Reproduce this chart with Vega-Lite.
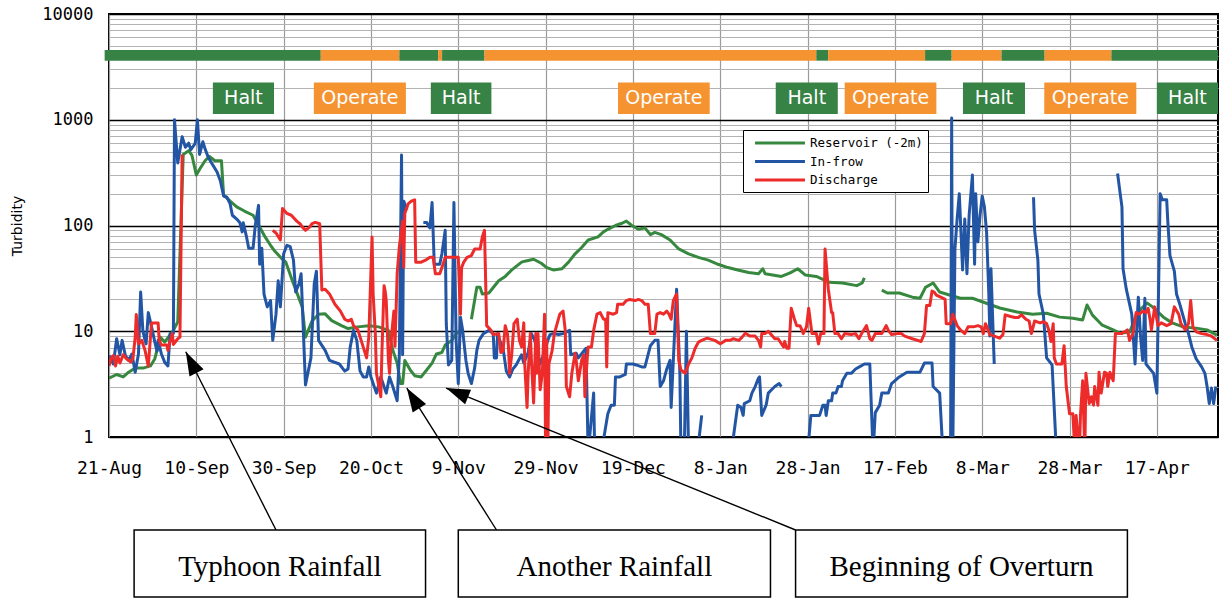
{
  "$schema": "https://vega.github.io/schema/vega-lite/v6.json",
  "width": 1109,
  "height": 423,
  "autosize": {"type": "none"},
  "padding": {"left": 109, "top": 14, "right": 1, "bottom": 161},
  "background": "white",
  "config": {
    "view": {"stroke": "black", "strokeWidth": 2},
    "axis": {"labelColor": "black", "titleColor": "black", "labelFontWeight": "normal"}
  },
  "datasets": {
    "status": [
      {"start": "2007-08-20", "end": "2007-10-08T12:00Z", "mode": "Halt"},
      {"start": "2007-10-08T12:00Z", "end": "2007-10-26T12:00Z", "mode": "Operate"},
      {"start": "2007-10-26T12:00Z", "end": "2007-11-04T10:00Z", "mode": "Halt"},
      {"start": "2007-11-04T10:00Z", "end": "2007-11-05T07:00Z", "mode": "Operate"},
      {"start": "2007-11-05T07:00Z", "end": "2007-11-15", "mode": "Halt"},
      {"start": "2007-11-15", "end": "2008-01-30", "mode": "Operate"},
      {"start": "2008-01-30", "end": "2008-02-01T17:00Z", "mode": "Halt"},
      {"start": "2008-02-01T17:00Z", "end": "2008-02-23T22:00Z", "mode": "Operate"},
      {"start": "2008-02-23T22:00Z", "end": "2008-03-01", "mode": "Halt"},
      {"start": "2008-03-01", "end": "2008-03-12T10:00Z", "mode": "Operate"},
      {"start": "2008-03-12T10:00Z", "end": "2008-03-22T07:00Z", "mode": "Halt"},
      {"start": "2008-03-22T07:00Z", "end": "2008-04-06T14:00Z", "mode": "Operate"},
      {"start": "2008-04-06T14:00Z", "end": "2008-05-01", "mode": "Halt"}
    ],
    "phases": [
      {"start": "2007-09-13T19:00Z", "end": "2007-09-27T19:00Z", "mode": "Halt"},
      {"start": "2007-10-06T22:00Z", "end": "2007-10-28T00:00Z", "mode": "Operate"},
      {"start": "2007-11-02T17:00Z", "end": "2007-11-16T14:00Z", "mode": "Halt"},
      {"start": "2007-12-15T14:00Z", "end": "2008-01-05T14:00Z", "mode": "Operate"},
      {"start": "2008-01-20T17:00Z", "end": "2008-02-03T22:00Z", "mode": "Halt"},
      {"start": "2008-02-05T12:00Z", "end": "2008-02-26T12:00Z", "mode": "Operate"},
      {"start": "2008-03-03T14:00Z", "end": "2008-03-17T19:00Z", "mode": "Halt"},
      {"start": "2008-03-22T05:00Z", "end": "2008-04-12T07:00Z", "mode": "Operate"},
      {"start": "2008-04-17T00:00Z", "end": "2008-05-01T00:00Z", "mode": "Halt"}
    ],
    "notes": [
      {"note": "Typhoon Rainfall", "tip": "2007-09-07T14:00Z", "tipValue": 6.4, "tail": "2007-09-28T06:00Z", "boxStart": "2007-08-26T18:00Z", "boxEnd": "2007-11-01T12:00Z"},
      {"note": "Another Rainfall", "tip": "2007-10-28T05:00Z", "tipValue": 2.9, "tail": "2007-11-17T18:00Z", "boxStart": "2007-11-09T00:00Z", "boxEnd": "2008-01-19T12:00Z"},
      {"note": "Beginning of Overturn", "tip": "2007-11-06T05:00Z", "tipValue": 2.9, "tail": "2008-01-25T06:00Z", "boxStart": "2008-01-25T06:00Z", "boxEnd": "2008-04-10T06:00Z"}
    ],
    "turbidity": [
      {"date": "2007-08-21", "series": "Reservoir (-2m)", "value": 3.6},
      {"date": "2007-08-22T18:00Z", "series": "Reservoir (-2m)", "value": 3.9},
      {"date": "2007-08-24T06:00Z", "series": "Reservoir (-2m)", "value": 3.7},
      {"date": "2007-08-25T12:00Z", "series": "Reservoir (-2m)", "value": 4.1},
      {"date": "2007-08-27", "series": "Reservoir (-2m)", "value": 4.5},
      {"date": "2007-08-29", "series": "Reservoir (-2m)", "value": 4.5},
      {"date": "2007-08-30T12:00Z", "series": "Reservoir (-2m)", "value": 4.7},
      {"date": "2007-08-31T12:00Z", "series": "Reservoir (-2m)", "value": 5.5},
      {"date": "2007-09-01T18:00Z", "series": "Reservoir (-2m)", "value": 8.8},
      {"date": "2007-09-02T18:00Z", "series": "Reservoir (-2m)", "value": 7.9},
      {"date": "2007-09-04T18:00Z", "series": "Reservoir (-2m)", "value": 10.2},
      {"date": "2007-09-05T18:00Z", "series": "Reservoir (-2m)", "value": 12.3},
      {"date": "2007-09-07", "series": "Reservoir (-2m)", "value": 470},
      {"date": "2007-09-08T06:00Z", "series": "Reservoir (-2m)", "value": 510},
      {"date": "2007-09-09", "series": "Reservoir (-2m)", "value": 460},
      {"date": "2007-09-10", "series": "Reservoir (-2m)", "value": 300},
      {"date": "2007-09-10T18:00Z", "series": "Reservoir (-2m)", "value": 340},
      {"date": "2007-09-12", "series": "Reservoir (-2m)", "value": 410},
      {"date": "2007-09-13", "series": "Reservoir (-2m)", "value": 450},
      {"date": "2007-09-14T06:00Z", "series": "Reservoir (-2m)", "value": 410},
      {"date": "2007-09-15T18:00Z", "series": "Reservoir (-2m)", "value": 410},
      {"date": "2007-09-16T06:00Z", "series": "Reservoir (-2m)", "value": 195},
      {"date": "2007-09-17T18:00Z", "series": "Reservoir (-2m)", "value": 170},
      {"date": "2007-09-19T06:00Z", "series": "Reservoir (-2m)", "value": 150},
      {"date": "2007-09-21", "series": "Reservoir (-2m)", "value": 137},
      {"date": "2007-09-23", "series": "Reservoir (-2m)", "value": 125},
      {"date": "2007-09-24T12:00Z", "series": "Reservoir (-2m)", "value": 97},
      {"date": "2007-09-25T18:00Z", "series": "Reservoir (-2m)", "value": 78},
      {"date": "2007-09-27", "series": "Reservoir (-2m)", "value": 65},
      {"date": "2007-09-28", "series": "Reservoir (-2m)", "value": 57},
      {"date": "2007-09-29T12:00Z", "series": "Reservoir (-2m)", "value": 49},
      {"date": "2007-09-30T12:00Z", "series": "Reservoir (-2m)", "value": 45},
      {"date": "2007-10-02", "series": "Reservoir (-2m)", "value": 30},
      {"date": "2007-10-04T06:00Z", "series": "Reservoir (-2m)", "value": 17},
      {"date": "2007-10-05", "series": "Reservoir (-2m)", "value": 8.8},
      {"date": "2007-10-06T12:00Z", "series": "Reservoir (-2m)", "value": 12.5},
      {"date": "2007-10-08", "series": "Reservoir (-2m)", "value": 14.5},
      {"date": "2007-10-09T12:00Z", "series": "Reservoir (-2m)", "value": 14.6},
      {"date": "2007-10-11", "series": "Reservoir (-2m)", "value": 12.6},
      {"date": "2007-10-13T06:00Z", "series": "Reservoir (-2m)", "value": 11.3},
      {"date": "2007-10-14T18:00Z", "series": "Reservoir (-2m)", "value": 10.6},
      {"date": "2007-10-17", "series": "Reservoir (-2m)", "value": 11},
      {"date": "2007-10-19T12:00Z", "series": "Reservoir (-2m)", "value": 11.3},
      {"date": "2007-10-21T18:00Z", "series": "Reservoir (-2m)", "value": 11},
      {"date": "2007-10-24", "series": "Reservoir (-2m)", "value": 10.2},
      {"date": "2007-10-25", "series": "Reservoir (-2m)", "value": 6.6},
      {"date": "2007-10-26", "series": "Reservoir (-2m)", "value": 5},
      {"date": "2007-10-26T18:00Z", "series": "Reservoir (-2m)", "value": 3.2},
      {"date": "2007-10-27T06:00Z", "series": "Reservoir (-2m)", "value": 3.2},
      {"date": "2007-10-27T18:00Z", "series": "Reservoir (-2m)", "value": 5.3},
      {"date": "2007-10-29", "series": "Reservoir (-2m)", "value": 4.3},
      {"date": "2007-10-30", "series": "Reservoir (-2m)", "value": 3.8},
      {"date": "2007-10-31T12:00Z", "series": "Reservoir (-2m)", "value": 3.7},
      {"date": "2007-11-01T18:00Z", "series": "Reservoir (-2m)", "value": 4.3},
      {"date": "2007-11-03", "series": "Reservoir (-2m)", "value": 5},
      {"date": "2007-11-04", "series": "Reservoir (-2m)", "value": 6.1},
      {"date": "2007-11-05T06:00Z", "series": "Reservoir (-2m)", "value": 6.3},
      {"date": "2007-11-06", "series": "Reservoir (-2m)", "value": 7.4},
      {"date": "2007-11-07T12:00Z", "series": "Reservoir (-2m)", "value": 8.2},
      {"date": "2007-11-08T12:00Z", "series": "Reservoir (-2m)", "value": 9.5},
      {"date": "2007-11-09T12:00Z", "series": "Reservoir (-2m)", "value": 10.2},
      {"date": "2007-11-10T12:00Z", "series": "Reservoir (-2m)", "value": null},
      {"date": "2007-11-12", "series": "Reservoir (-2m)", "value": 13},
      {"date": "2007-11-13T06:00Z", "series": "Reservoir (-2m)", "value": 26},
      {"date": "2007-11-14", "series": "Reservoir (-2m)", "value": 26},
      {"date": "2007-11-14T12:00Z", "series": "Reservoir (-2m)", "value": 22.5},
      {"date": "2007-11-16", "series": "Reservoir (-2m)", "value": 23},
      {"date": "2007-11-18T06:00Z", "series": "Reservoir (-2m)", "value": 30},
      {"date": "2007-11-19T18:00Z", "series": "Reservoir (-2m)", "value": 33},
      {"date": "2007-11-21T06:00Z", "series": "Reservoir (-2m)", "value": 38},
      {"date": "2007-11-23T12:00Z", "series": "Reservoir (-2m)", "value": 45},
      {"date": "2007-11-24T06:00Z", "series": "Reservoir (-2m)", "value": 46},
      {"date": "2007-11-26T06:00Z", "series": "Reservoir (-2m)", "value": 48},
      {"date": "2007-11-28", "series": "Reservoir (-2m)", "value": 44},
      {"date": "2007-11-29T06:00Z", "series": "Reservoir (-2m)", "value": 40},
      {"date": "2007-11-30T18:00Z", "series": "Reservoir (-2m)", "value": 38},
      {"date": "2007-12-02T18:00Z", "series": "Reservoir (-2m)", "value": 39},
      {"date": "2007-12-04T06:00Z", "series": "Reservoir (-2m)", "value": 45},
      {"date": "2007-12-05T18:00Z", "series": "Reservoir (-2m)", "value": 54},
      {"date": "2007-12-07T06:00Z", "series": "Reservoir (-2m)", "value": 62},
      {"date": "2007-12-08T18:00Z", "series": "Reservoir (-2m)", "value": 73},
      {"date": "2007-12-11", "series": "Reservoir (-2m)", "value": 78},
      {"date": "2007-12-12T06:00Z", "series": "Reservoir (-2m)", "value": 87},
      {"date": "2007-12-13T06:00Z", "series": "Reservoir (-2m)", "value": 92},
      {"date": "2007-12-15", "series": "Reservoir (-2m)", "value": 100},
      {"date": "2007-12-16T12:00Z", "series": "Reservoir (-2m)", "value": 105},
      {"date": "2007-12-17T12:00Z", "series": "Reservoir (-2m)", "value": 110},
      {"date": "2007-12-18T18:00Z", "series": "Reservoir (-2m)", "value": 100},
      {"date": "2007-12-20T06:00Z", "series": "Reservoir (-2m)", "value": 92},
      {"date": "2007-12-21T18:00Z", "series": "Reservoir (-2m)", "value": 95},
      {"date": "2007-12-23", "series": "Reservoir (-2m)", "value": 82},
      {"date": "2007-12-24", "series": "Reservoir (-2m)", "value": 86},
      {"date": "2007-12-25T12:00Z", "series": "Reservoir (-2m)", "value": 82},
      {"date": "2007-12-27T12:00Z", "series": "Reservoir (-2m)", "value": 73},
      {"date": "2007-12-29T12:00Z", "series": "Reservoir (-2m)", "value": 60},
      {"date": "2007-12-31T18:00Z", "series": "Reservoir (-2m)", "value": 54},
      {"date": "2008-01-03", "series": "Reservoir (-2m)", "value": 50},
      {"date": "2008-01-05T06:00Z", "series": "Reservoir (-2m)", "value": 47},
      {"date": "2008-01-07T12:00Z", "series": "Reservoir (-2m)", "value": 43},
      {"date": "2008-01-09T18:00Z", "series": "Reservoir (-2m)", "value": 40},
      {"date": "2008-01-12", "series": "Reservoir (-2m)", "value": 38},
      {"date": "2008-01-14T12:00Z", "series": "Reservoir (-2m)", "value": 36},
      {"date": "2008-01-16T18:00Z", "series": "Reservoir (-2m)", "value": 35},
      {"date": "2008-01-17T18:00Z", "series": "Reservoir (-2m)", "value": 39},
      {"date": "2008-01-18T06:00Z", "series": "Reservoir (-2m)", "value": 35},
      {"date": "2008-01-20", "series": "Reservoir (-2m)", "value": 34},
      {"date": "2008-01-22", "series": "Reservoir (-2m)", "value": 33},
      {"date": "2008-01-24", "series": "Reservoir (-2m)", "value": 35.6},
      {"date": "2008-01-25T18:00Z", "series": "Reservoir (-2m)", "value": 39},
      {"date": "2008-01-27T12:00Z", "series": "Reservoir (-2m)", "value": 34},
      {"date": "2008-01-30", "series": "Reservoir (-2m)", "value": 33},
      {"date": "2008-01-30T18:00Z", "series": "Reservoir (-2m)", "value": 32},
      {"date": "2008-02-02", "series": "Reservoir (-2m)", "value": 29},
      {"date": "2008-02-05", "series": "Reservoir (-2m)", "value": 28.6},
      {"date": "2008-02-08T06:00Z", "series": "Reservoir (-2m)", "value": 27},
      {"date": "2008-02-09T12:00Z", "series": "Reservoir (-2m)", "value": 28.6},
      {"date": "2008-02-10", "series": "Reservoir (-2m)", "value": 32},
      {"date": "2008-02-12", "series": "Reservoir (-2m)", "value": null},
      {"date": "2008-02-14", "series": "Reservoir (-2m)", "value": 24.5},
      {"date": "2008-02-15T06:00Z", "series": "Reservoir (-2m)", "value": 23},
      {"date": "2008-02-18", "series": "Reservoir (-2m)", "value": 23},
      {"date": "2008-02-21", "series": "Reservoir (-2m)", "value": 21},
      {"date": "2008-02-22T18:00Z", "series": "Reservoir (-2m)", "value": 20.5},
      {"date": "2008-02-24", "series": "Reservoir (-2m)", "value": 26},
      {"date": "2008-02-25T18:00Z", "series": "Reservoir (-2m)", "value": 28.6},
      {"date": "2008-02-27T06:00Z", "series": "Reservoir (-2m)", "value": 23.5},
      {"date": "2008-02-29T12:00Z", "series": "Reservoir (-2m)", "value": 22},
      {"date": "2008-03-03", "series": "Reservoir (-2m)", "value": 20.5},
      {"date": "2008-03-05T18:00Z", "series": "Reservoir (-2m)", "value": 20.5},
      {"date": "2008-03-08", "series": "Reservoir (-2m)", "value": 19},
      {"date": "2008-03-12", "series": "Reservoir (-2m)", "value": 16.6},
      {"date": "2008-03-16", "series": "Reservoir (-2m)", "value": 15.2},
      {"date": "2008-03-19T12:00Z", "series": "Reservoir (-2m)", "value": 14.5},
      {"date": "2008-03-22T18:00Z", "series": "Reservoir (-2m)", "value": 14.8},
      {"date": "2008-03-25T18:00Z", "series": "Reservoir (-2m)", "value": 13.6},
      {"date": "2008-03-28T18:00Z", "series": "Reservoir (-2m)", "value": 13.3},
      {"date": "2008-03-31", "series": "Reservoir (-2m)", "value": 12.8},
      {"date": "2008-04-01", "series": "Reservoir (-2m)", "value": 17.7},
      {"date": "2008-04-02T06:00Z", "series": "Reservoir (-2m)", "value": 14.2},
      {"date": "2008-04-04T12:00Z", "series": "Reservoir (-2m)", "value": 11.4},
      {"date": "2008-04-07", "series": "Reservoir (-2m)", "value": 10.3},
      {"date": "2008-04-08T12:00Z", "series": "Reservoir (-2m)", "value": 9.6},
      {"date": "2008-04-10T18:00Z", "series": "Reservoir (-2m)", "value": 9.8},
      {"date": "2008-04-12T12:00Z", "series": "Reservoir (-2m)", "value": 15},
      {"date": "2008-04-14T18:00Z", "series": "Reservoir (-2m)", "value": 18.5},
      {"date": "2008-04-16", "series": "Reservoir (-2m)", "value": 17},
      {"date": "2008-04-18T12:00Z", "series": "Reservoir (-2m)", "value": 13.6},
      {"date": "2008-04-20T12:00Z", "series": "Reservoir (-2m)", "value": 12},
      {"date": "2008-04-23", "series": "Reservoir (-2m)", "value": 11},
      {"date": "2008-04-26", "series": "Reservoir (-2m)", "value": 10.7},
      {"date": "2008-04-28T12:00Z", "series": "Reservoir (-2m)", "value": 10.3},
      {"date": "2008-04-30T18:00Z", "series": "Reservoir (-2m)", "value": 9.2},

      {"date": "2007-08-21", "series": "In-frow", "value": 5.9},
      {"date": "2007-08-22", "series": "In-frow", "value": 4.9},
      {"date": "2007-08-22T18:00Z", "series": "In-frow", "value": 8.5},
      {"date": "2007-08-23T12:00Z", "series": "In-frow", "value": 6},
      {"date": "2007-08-24", "series": "In-frow", "value": 8.2},
      {"date": "2007-08-24T18:00Z", "series": "In-frow", "value": 5.9},
      {"date": "2007-08-25T12:00Z", "series": "In-frow", "value": 5.3},
      {"date": "2007-08-26T06:00Z", "series": "In-frow", "value": 6.1},
      {"date": "2007-08-27", "series": "In-frow", "value": 4.1},
      {"date": "2007-08-27T18:00Z", "series": "In-frow", "value": 6.1},
      {"date": "2007-08-28T06:00Z", "series": "In-frow", "value": 23.5},
      {"date": "2007-08-28T18:00Z", "series": "In-frow", "value": 10.2},
      {"date": "2007-08-29T06:00Z", "series": "In-frow", "value": 8.2},
      {"date": "2007-08-29T12:00Z", "series": "In-frow", "value": 7.6},
      {"date": "2007-08-30", "series": "In-frow", "value": 15},
      {"date": "2007-08-30T18:00Z", "series": "In-frow", "value": 11},
      {"date": "2007-08-31T12:00Z", "series": "In-frow", "value": 7.9},
      {"date": "2007-09-01", "series": "In-frow", "value": 6.5},
      {"date": "2007-09-01T06:00Z", "series": "In-frow", "value": 8.2},
      {"date": "2007-09-02", "series": "In-frow", "value": 6.1},
      {"date": "2007-09-02T18:00Z", "series": "In-frow", "value": 5.1},
      {"date": "2007-09-03T12:00Z", "series": "In-frow", "value": 4.7},
      {"date": "2007-09-04", "series": "In-frow", "value": 9.5},
      {"date": "2007-09-04T18:00Z", "series": "In-frow", "value": 9.5},
      {"date": "2007-09-05", "series": "In-frow", "value": 1000},
      {"date": "2007-09-05T18:00Z", "series": "In-frow", "value": 390},
      {"date": "2007-09-06T18:00Z", "series": "In-frow", "value": 690},
      {"date": "2007-09-07T12:00Z", "series": "In-frow", "value": 550},
      {"date": "2007-09-08T06:00Z", "series": "In-frow", "value": 600},
      {"date": "2007-09-08T18:00Z", "series": "In-frow", "value": 520},
      {"date": "2007-09-09T18:00Z", "series": "In-frow", "value": 600},
      {"date": "2007-09-10T06:00Z", "series": "In-frow", "value": 1000},
      {"date": "2007-09-10T18:00Z", "series": "In-frow", "value": 470},
      {"date": "2007-09-11T12:00Z", "series": "In-frow", "value": 620},
      {"date": "2007-09-12", "series": "In-frow", "value": 530},
      {"date": "2007-09-12T18:00Z", "series": "In-frow", "value": 440},
      {"date": "2007-09-13T12:00Z", "series": "In-frow", "value": 390},
      {"date": "2007-09-14T18:00Z", "series": "In-frow", "value": 320},
      {"date": "2007-09-15T12:00Z", "series": "In-frow", "value": 265},
      {"date": "2007-09-16T06:00Z", "series": "In-frow", "value": 190},
      {"date": "2007-09-17", "series": "In-frow", "value": 185},
      {"date": "2007-09-17T18:00Z", "series": "In-frow", "value": 160},
      {"date": "2007-09-18T06:00Z", "series": "In-frow", "value": 125},
      {"date": "2007-09-19T06:00Z", "series": "In-frow", "value": 115},
      {"date": "2007-09-20", "series": "In-frow", "value": 106},
      {"date": "2007-09-20T12:00Z", "series": "In-frow", "value": 87},
      {"date": "2007-09-20T18:00Z", "series": "In-frow", "value": 106},
      {"date": "2007-09-21T12:00Z", "series": "In-frow", "value": 78},
      {"date": "2007-09-22", "series": "In-frow", "value": 61},
      {"date": "2007-09-23", "series": "In-frow", "value": 61},
      {"date": "2007-09-23T12:00Z", "series": "In-frow", "value": 100},
      {"date": "2007-09-24T06:00Z", "series": "In-frow", "value": 155},
      {"date": "2007-09-24T12:00Z", "series": "In-frow", "value": 43},
      {"date": "2007-09-25", "series": "In-frow", "value": 61},
      {"date": "2007-09-25T12:00Z", "series": "In-frow", "value": 22.5},
      {"date": "2007-09-26T06:00Z", "series": "In-frow", "value": 17},
      {"date": "2007-09-27", "series": "In-frow", "value": 19.5},
      {"date": "2007-09-27T12:00Z", "series": "In-frow", "value": 8.2},
      {"date": "2007-09-28T06:00Z", "series": "In-frow", "value": 14.5},
      {"date": "2007-09-28T18:00Z", "series": "In-frow", "value": 30},
      {"date": "2007-09-29T06:00Z", "series": "In-frow", "value": 17},
      {"date": "2007-09-30", "series": "In-frow", "value": 54},
      {"date": "2007-09-30T18:00Z", "series": "In-frow", "value": 65},
      {"date": "2007-10-01T12:00Z", "series": "In-frow", "value": 63},
      {"date": "2007-10-02T06:00Z", "series": "In-frow", "value": 47},
      {"date": "2007-10-02T18:00Z", "series": "In-frow", "value": 23.5},
      {"date": "2007-10-03T12:00Z", "series": "In-frow", "value": 28},
      {"date": "2007-10-04", "series": "In-frow", "value": 35},
      {"date": "2007-10-05", "series": "In-frow", "value": 3.1},
      {"date": "2007-10-06T06:00Z", "series": "In-frow", "value": 5.6},
      {"date": "2007-10-07", "series": "In-frow", "value": 28},
      {"date": "2007-10-07T12:00Z", "series": "In-frow", "value": 37},
      {"date": "2007-10-08", "series": "In-frow", "value": 8.2},
      {"date": "2007-10-09T12:00Z", "series": "In-frow", "value": 6.6},
      {"date": "2007-10-10T12:00Z", "series": "In-frow", "value": 5.3},
      {"date": "2007-10-12T18:00Z", "series": "In-frow", "value": 4.9},
      {"date": "2007-10-14", "series": "In-frow", "value": 4.2},
      {"date": "2007-10-14T18:00Z", "series": "In-frow", "value": 4.4},
      {"date": "2007-10-15T06:00Z", "series": "In-frow", "value": 7.1},
      {"date": "2007-10-16", "series": "In-frow", "value": 10.2},
      {"date": "2007-10-16T18:00Z", "series": "In-frow", "value": 8.2},
      {"date": "2007-10-17T12:00Z", "series": "In-frow", "value": 4.2},
      {"date": "2007-10-18T06:00Z", "series": "In-frow", "value": 3.7},
      {"date": "2007-10-19", "series": "In-frow", "value": 3.7},
      {"date": "2007-10-19T12:00Z", "series": "In-frow", "value": 4.6},
      {"date": "2007-10-20", "series": "In-frow", "value": 3.7},
      {"date": "2007-10-21T06:00Z", "series": "In-frow", "value": 2.6},
      {"date": "2007-10-22T06:00Z", "series": "In-frow", "value": 3.7},
      {"date": "2007-10-23T12:00Z", "series": "In-frow", "value": 2.6},
      {"date": "2007-10-24T06:00Z", "series": "In-frow", "value": 3.7},
      {"date": "2007-10-25", "series": "In-frow", "value": 3},
      {"date": "2007-10-26", "series": "In-frow", "value": 2.2},
      {"date": "2007-10-26T12:00Z", "series": "In-frow", "value": 6},
      {"date": "2007-10-27", "series": "In-frow", "value": 465},
      {"date": "2007-10-27T06:00Z", "series": "In-frow", "value": 6},
      {"date": "2007-10-27T12:00Z", "series": "In-frow", "value": 170},
      {"date": "2007-10-28T06:00Z", "series": "In-frow", "value": 140},
      {"date": "2007-10-29T12:00Z", "series": "In-frow", "value": null},
      {"date": "2007-11-01", "series": "In-frow", "value": 107},
      {"date": "2007-11-01T18:00Z", "series": "In-frow", "value": 107},
      {"date": "2007-11-02T12:00Z", "series": "In-frow", "value": 95},
      {"date": "2007-11-03", "series": "In-frow", "value": 165},
      {"date": "2007-11-03T12:00Z", "series": "In-frow", "value": 43},
      {"date": "2007-11-04T18:00Z", "series": "In-frow", "value": 43},
      {"date": "2007-11-05T06:00Z", "series": "In-frow", "value": 54},
      {"date": "2007-11-06", "series": "In-frow", "value": 90},
      {"date": "2007-11-06T06:00Z", "series": "In-frow", "value": 11.8},
      {"date": "2007-11-06T18:00Z", "series": "In-frow", "value": 4.8},
      {"date": "2007-11-07T12:00Z", "series": "In-frow", "value": 5.3},
      {"date": "2007-11-08", "series": "In-frow", "value": 165},
      {"date": "2007-11-08T12:00Z", "series": "In-frow", "value": 8.2},
      {"date": "2007-11-09", "series": "In-frow", "value": 3.2},
      {"date": "2007-11-09T12:00Z", "series": "In-frow", "value": 13.6},
      {"date": "2007-11-10", "series": "In-frow", "value": 10.2},
      {"date": "2007-11-10T18:00Z", "series": "In-frow", "value": 5.3},
      {"date": "2007-11-11T06:00Z", "series": "In-frow", "value": 4},
      {"date": "2007-11-12", "series": "In-frow", "value": 3.2},
      {"date": "2007-11-12T18:00Z", "series": "In-frow", "value": 4.5},
      {"date": "2007-11-13T06:00Z", "series": "In-frow", "value": 6.6},
      {"date": "2007-11-13T18:00Z", "series": "In-frow", "value": 8.2},
      {"date": "2007-11-14T18:00Z", "series": "In-frow", "value": 9.5},
      {"date": "2007-11-16", "series": "In-frow", "value": 10.2},
      {"date": "2007-11-17", "series": "In-frow", "value": 9.5},
      {"date": "2007-11-17T06:00Z", "series": "In-frow", "value": 5.6},
      {"date": "2007-11-17T18:00Z", "series": "In-frow", "value": 5.6},
      {"date": "2007-11-18", "series": "In-frow", "value": 9.5},
      {"date": "2007-11-18T12:00Z", "series": "In-frow", "value": 8.2},
      {"date": "2007-11-19T06:00Z", "series": "In-frow", "value": 6.9},
      {"date": "2007-11-20", "series": "In-frow", "value": 4.2},
      {"date": "2007-11-20T18:00Z", "series": "In-frow", "value": 3.7},
      {"date": "2007-11-21T12:00Z", "series": "In-frow", "value": 4.4},
      {"date": "2007-11-22T06:00Z", "series": "In-frow", "value": 4.8},
      {"date": "2007-11-23T12:00Z", "series": "In-frow", "value": 6},
      {"date": "2007-11-24", "series": "In-frow", "value": 5},
      {"date": "2007-11-25", "series": "In-frow", "value": 6.3},
      {"date": "2007-11-25T18:00Z", "series": "In-frow", "value": 9.5},
      {"date": "2007-11-26T12:00Z", "series": "In-frow", "value": 8.2},
      {"date": "2007-11-27T18:00Z", "series": "In-frow", "value": 4.9},
      {"date": "2007-11-28T12:00Z", "series": "In-frow", "value": 6},
      {"date": "2007-11-29T12:00Z", "series": "In-frow", "value": 8.2},
      {"date": "2007-11-30", "series": "In-frow", "value": 9.3},
      {"date": "2007-11-30T18:00Z", "series": "In-frow", "value": 9.5},
      {"date": "2007-12-02", "series": "In-frow", "value": 9.3},
      {"date": "2007-12-03", "series": "In-frow", "value": 9.5},
      {"date": "2007-12-04T12:00Z", "series": "In-frow", "value": 10.2},
      {"date": "2007-12-04T18:00Z", "series": "In-frow", "value": 6},
      {"date": "2007-12-06", "series": "In-frow", "value": 6.2},
      {"date": "2007-12-06T12:00Z", "series": "In-frow", "value": 5.6},
      {"date": "2007-12-08T06:00Z", "series": "In-frow", "value": 6.9},
      {"date": "2007-12-08T18:00Z", "series": "In-frow", "value": 0.7},
      {"date": "2007-12-10", "series": "In-frow", "value": 2.6},
      {"date": "2007-12-10T06:00Z", "series": "In-frow", "value": 0.7},
      {"date": "2007-12-11T18:00Z", "series": "In-frow", "value": 0.7},
      {"date": "2007-12-13T06:00Z", "series": "In-frow", "value": 1.66},
      {"date": "2007-12-14", "series": "In-frow", "value": 2},
      {"date": "2007-12-14T18:00Z", "series": "In-frow", "value": 2},
      {"date": "2007-12-15", "series": "In-frow", "value": 3.7},
      {"date": "2007-12-16", "series": "In-frow", "value": 3.7},
      {"date": "2007-12-17T06:00Z", "series": "In-frow", "value": 3.9},
      {"date": "2007-12-17T12:00Z", "series": "In-frow", "value": 4.9},
      {"date": "2007-12-19", "series": "In-frow", "value": 4.9},
      {"date": "2007-12-19T18:00Z", "series": "In-frow", "value": 4.8},
      {"date": "2007-12-21", "series": "In-frow", "value": 4.6},
      {"date": "2007-12-21T18:00Z", "series": "In-frow", "value": 4.6},
      {"date": "2007-12-23", "series": "In-frow", "value": 7.3},
      {"date": "2007-12-24", "series": "In-frow", "value": 8.2},
      {"date": "2007-12-24T18:00Z", "series": "In-frow", "value": 8.2},
      {"date": "2007-12-25T06:00Z", "series": "In-frow", "value": 3},
      {"date": "2007-12-26", "series": "In-frow", "value": 3.4},
      {"date": "2007-12-26T18:00Z", "series": "In-frow", "value": 4.4},
      {"date": "2007-12-27T12:00Z", "series": "In-frow", "value": 5.3},
      {"date": "2007-12-27T18:00Z", "series": "In-frow", "value": 1.9},
      {"date": "2007-12-28T06:00Z", "series": "In-frow", "value": 5.3},
      {"date": "2007-12-29", "series": "In-frow", "value": 25},
      {"date": "2007-12-29T18:00Z", "series": "In-frow", "value": 4},
      {"date": "2007-12-30", "series": "In-frow", "value": 0.7},
      {"date": "2007-12-30T18:00Z", "series": "In-frow", "value": 0.7},
      {"date": "2007-12-31T06:00Z", "series": "In-frow", "value": 10},
      {"date": "2007-12-31T18:00Z", "series": "In-frow", "value": 0.7},
      {"date": "2008-01-01T12:00Z", "series": "In-frow", "value": null},
      {"date": "2008-01-02T18:00Z", "series": "In-frow", "value": 0.7},
      {"date": "2008-01-03T18:00Z", "series": "In-frow", "value": 1.6},
      {"date": "2008-01-04T12:00Z", "series": "In-frow", "value": null},
      {"date": "2008-01-10T12:00Z", "series": "In-frow", "value": 0.7},
      {"date": "2008-01-12", "series": "In-frow", "value": 2},
      {"date": "2008-01-12T18:00Z", "series": "In-frow", "value": 1.9},
      {"date": "2008-01-13T06:00Z", "series": "In-frow", "value": 1.6},
      {"date": "2008-01-13T12:00Z", "series": "In-frow", "value": 2.07},
      {"date": "2008-01-14T18:00Z", "series": "In-frow", "value": 2.2},
      {"date": "2008-01-15T06:00Z", "series": "In-frow", "value": 2.6},
      {"date": "2008-01-16", "series": "In-frow", "value": 3},
      {"date": "2008-01-16T18:00Z", "series": "In-frow", "value": 3.6},
      {"date": "2008-01-17", "series": "In-frow", "value": 3.7},
      {"date": "2008-01-17T12:00Z", "series": "In-frow", "value": 1.6},
      {"date": "2008-01-18T12:00Z", "series": "In-frow", "value": 2},
      {"date": "2008-01-19", "series": "In-frow", "value": 2.6},
      {"date": "2008-01-19T18:00Z", "series": "In-frow", "value": 2.8},
      {"date": "2008-01-20T12:00Z", "series": "In-frow", "value": 3},
      {"date": "2008-01-21T12:00Z", "series": "In-frow", "value": 3.2},
      {"date": "2008-01-22", "series": "In-frow", "value": 3},
      {"date": "2008-01-23", "series": "In-frow", "value": null},
      {"date": "2008-01-28", "series": "In-frow", "value": 0.7},
      {"date": "2008-01-28T18:00Z", "series": "In-frow", "value": 1.6},
      {"date": "2008-01-30T18:00Z", "series": "In-frow", "value": 1.6},
      {"date": "2008-01-31T12:00Z", "series": "In-frow", "value": 2},
      {"date": "2008-02-01", "series": "In-frow", "value": 2},
      {"date": "2008-02-01T06:00Z", "series": "In-frow", "value": 1.6},
      {"date": "2008-02-01T18:00Z", "series": "In-frow", "value": 2.2},
      {"date": "2008-02-02T12:00Z", "series": "In-frow", "value": 2.2},
      {"date": "2008-02-02T18:00Z", "series": "In-frow", "value": 2.6},
      {"date": "2008-02-03T12:00Z", "series": "In-frow", "value": 2.6},
      {"date": "2008-02-04", "series": "In-frow", "value": 3},
      {"date": "2008-02-04T18:00Z", "series": "In-frow", "value": 3},
      {"date": "2008-02-05", "series": "In-frow", "value": 3.4},
      {"date": "2008-02-06", "series": "In-frow", "value": 4},
      {"date": "2008-02-07", "series": "In-frow", "value": 4},
      {"date": "2008-02-08", "series": "In-frow", "value": 4.4},
      {"date": "2008-02-09T06:00Z", "series": "In-frow", "value": 4.7},
      {"date": "2008-02-10", "series": "In-frow", "value": 4.9},
      {"date": "2008-02-11T06:00Z", "series": "In-frow", "value": 4.9},
      {"date": "2008-02-12", "series": "In-frow", "value": 0.7},
      {"date": "2008-02-12T12:00Z", "series": "In-frow", "value": 1.7},
      {"date": "2008-02-13T12:00Z", "series": "In-frow", "value": 2},
      {"date": "2008-02-14", "series": "In-frow", "value": 2.6},
      {"date": "2008-02-15T12:00Z", "series": "In-frow", "value": 2.6},
      {"date": "2008-02-16T06:00Z", "series": "In-frow", "value": 3.2},
      {"date": "2008-02-18", "series": "In-frow", "value": 3.7},
      {"date": "2008-02-19T18:00Z", "series": "In-frow", "value": 4.1},
      {"date": "2008-02-22T18:00Z", "series": "In-frow", "value": 4.1},
      {"date": "2008-02-23T18:00Z", "series": "In-frow", "value": 5},
      {"date": "2008-02-25T12:00Z", "series": "In-frow", "value": 5},
      {"date": "2008-02-25T18:00Z", "series": "In-frow", "value": 3},
      {"date": "2008-02-27T06:00Z", "series": "In-frow", "value": 2.6},
      {"date": "2008-02-28", "series": "In-frow", "value": 0.7},
      {"date": "2008-02-29", "series": "In-frow", "value": null},
      {"date": "2008-02-29T18:00Z", "series": "In-frow", "value": 0.7},
      {"date": "2008-03-01", "series": "In-frow", "value": 1040},
      {"date": "2008-03-01T06:00Z", "series": "In-frow", "value": 0.7},
      {"date": "2008-03-01T18:00Z", "series": "In-frow", "value": 60},
      {"date": "2008-03-02T06:00Z", "series": "In-frow", "value": 115},
      {"date": "2008-03-02T18:00Z", "series": "In-frow", "value": 200},
      {"date": "2008-03-03T12:00Z", "series": "In-frow", "value": 38},
      {"date": "2008-03-04", "series": "In-frow", "value": 115},
      {"date": "2008-03-04T12:00Z", "series": "In-frow", "value": 35},
      {"date": "2008-03-05", "series": "In-frow", "value": 125},
      {"date": "2008-03-05T18:00Z", "series": "In-frow", "value": 300},
      {"date": "2008-03-06T06:00Z", "series": "In-frow", "value": 43},
      {"date": "2008-03-06T12:00Z", "series": "In-frow", "value": 200},
      {"date": "2008-03-07", "series": "In-frow", "value": 70},
      {"date": "2008-03-07T12:00Z", "series": "In-frow", "value": 125},
      {"date": "2008-03-08", "series": "In-frow", "value": 190},
      {"date": "2008-03-08T12:00Z", "series": "In-frow", "value": 150},
      {"date": "2008-03-09", "series": "In-frow", "value": 86},
      {"date": "2008-03-09T12:00Z", "series": "In-frow", "value": 23},
      {"date": "2008-03-09T18:00Z", "series": "In-frow", "value": 9},
      {"date": "2008-03-10", "series": "In-frow", "value": 39},
      {"date": "2008-03-10T18:00Z", "series": "In-frow", "value": 4.9},
      {"date": "2008-03-11T12:00Z", "series": "In-frow", "value": null},
      {"date": "2008-03-19T18:00Z", "series": "In-frow", "value": 185},
      {"date": "2008-03-20", "series": "In-frow", "value": 90},
      {"date": "2008-03-20T18:00Z", "series": "In-frow", "value": 47},
      {"date": "2008-03-21", "series": "In-frow", "value": 22.5},
      {"date": "2008-03-22", "series": "In-frow", "value": 14.5},
      {"date": "2008-03-22T18:00Z", "series": "In-frow", "value": 5.6},
      {"date": "2008-03-24", "series": "In-frow", "value": 4.8},
      {"date": "2008-03-25", "series": "In-frow", "value": 0.7},
      {"date": "2008-03-26", "series": "In-frow", "value": null},
      {"date": "2008-04-08", "series": "In-frow", "value": 310},
      {"date": "2008-04-08T12:00Z", "series": "In-frow", "value": 215},
      {"date": "2008-04-09", "series": "In-frow", "value": 150},
      {"date": "2008-04-09T06:00Z", "series": "In-frow", "value": 39},
      {"date": "2008-04-10", "series": "In-frow", "value": 25},
      {"date": "2008-04-11T06:00Z", "series": "In-frow", "value": 14.5},
      {"date": "2008-04-12", "series": "In-frow", "value": 4.9},
      {"date": "2008-04-12T18:00Z", "series": "In-frow", "value": 21},
      {"date": "2008-04-13T06:00Z", "series": "In-frow", "value": 9},
      {"date": "2008-04-13T18:00Z", "series": "In-frow", "value": 5.3},
      {"date": "2008-04-14T06:00Z", "series": "In-frow", "value": 20.5},
      {"date": "2008-04-14T12:00Z", "series": "In-frow", "value": 4.9},
      {"date": "2008-04-16T06:00Z", "series": "In-frow", "value": 4},
      {"date": "2008-04-17", "series": "In-frow", "value": 2.6},
      {"date": "2008-04-17T18:00Z", "series": "In-frow", "value": 200},
      {"date": "2008-04-18T06:00Z", "series": "In-frow", "value": 175},
      {"date": "2008-04-19T06:00Z", "series": "In-frow", "value": 175},
      {"date": "2008-04-19T12:00Z", "series": "In-frow", "value": 110},
      {"date": "2008-04-20", "series": "In-frow", "value": 52},
      {"date": "2008-04-21", "series": "In-frow", "value": 37},
      {"date": "2008-04-21T12:00Z", "series": "In-frow", "value": 22.5},
      {"date": "2008-04-22T06:00Z", "series": "In-frow", "value": 18},
      {"date": "2008-04-23T12:00Z", "series": "In-frow", "value": 11.8},
      {"date": "2008-04-24T06:00Z", "series": "In-frow", "value": 9.5},
      {"date": "2008-04-25", "series": "In-frow", "value": 7.1},
      {"date": "2008-04-26", "series": "In-frow", "value": 5.5},
      {"date": "2008-04-27T06:00Z", "series": "In-frow", "value": 4.6},
      {"date": "2008-04-28", "series": "In-frow", "value": 4},
      {"date": "2008-04-28T12:00Z", "series": "In-frow", "value": 3},
      {"date": "2008-04-29", "series": "In-frow", "value": 2.07},
      {"date": "2008-04-29T12:00Z", "series": "In-frow", "value": 2.9},
      {"date": "2008-04-30", "series": "In-frow", "value": 2.07},
      {"date": "2008-04-30T12:00Z", "series": "In-frow", "value": 3},

      {"date": "2007-08-21", "series": "Discharge", "value": 4.7},
      {"date": "2007-08-21T12:00Z", "series": "Discharge", "value": 5.6},
      {"date": "2007-08-22", "series": "Discharge", "value": 5.9},
      {"date": "2007-08-22T12:00Z", "series": "Discharge", "value": 4.7},
      {"date": "2007-08-23", "series": "Discharge", "value": 5.8},
      {"date": "2007-08-23T12:00Z", "series": "Discharge", "value": 5},
      {"date": "2007-08-24T06:00Z", "series": "Discharge", "value": 6},
      {"date": "2007-08-25", "series": "Discharge", "value": 5.5},
      {"date": "2007-08-26", "series": "Discharge", "value": 5.1},
      {"date": "2007-08-26T12:00Z", "series": "Discharge", "value": 5.6},
      {"date": "2007-08-27", "series": "Discharge", "value": 8.8},
      {"date": "2007-08-27T06:00Z", "series": "Discharge", "value": 14.4},
      {"date": "2007-08-27T18:00Z", "series": "Discharge", "value": 7.6},
      {"date": "2007-08-28T12:00Z", "series": "Discharge", "value": 8.2},
      {"date": "2007-08-29T06:00Z", "series": "Discharge", "value": 6.6},
      {"date": "2007-08-30", "series": "Discharge", "value": 4.7},
      {"date": "2007-08-30T18:00Z", "series": "Discharge", "value": 12},
      {"date": "2007-09-01T06:00Z", "series": "Discharge", "value": 12},
      {"date": "2007-09-01T12:00Z", "series": "Discharge", "value": 8.2},
      {"date": "2007-09-02", "series": "Discharge", "value": 7.4},
      {"date": "2007-09-03T06:00Z", "series": "Discharge", "value": 7.4},
      {"date": "2007-09-03T12:00Z", "series": "Discharge", "value": 6.6},
      {"date": "2007-09-03T18:00Z", "series": "Discharge", "value": 7.4},
      {"date": "2007-09-04T12:00Z", "series": "Discharge", "value": 9.5},
      {"date": "2007-09-04T18:00Z", "series": "Discharge", "value": 7.5},
      {"date": "2007-09-05T06:00Z", "series": "Discharge", "value": 8},
      {"date": "2007-09-05T18:00Z", "series": "Discharge", "value": 8.5},
      {"date": "2007-09-06T06:00Z", "series": "Discharge", "value": 8.8},
      {"date": "2007-09-06T18:00Z", "series": "Discharge", "value": 470},
      {"date": "2007-09-07T12:00Z", "series": "Discharge", "value": null},
      {"date": "2007-09-27T12:00Z", "series": "Discharge", "value": 90},
      {"date": "2007-09-28T06:00Z", "series": "Discharge", "value": 85},
      {"date": "2007-09-29T06:00Z", "series": "Discharge", "value": 73},
      {"date": "2007-09-29T18:00Z", "series": "Discharge", "value": 145},
      {"date": "2007-09-30T18:00Z", "series": "Discharge", "value": 130},
      {"date": "2007-10-01T18:00Z", "series": "Discharge", "value": 125},
      {"date": "2007-10-03", "series": "Discharge", "value": 110},
      {"date": "2007-10-03T18:00Z", "series": "Discharge", "value": 104},
      {"date": "2007-10-04T06:00Z", "series": "Discharge", "value": 97},
      {"date": "2007-10-05", "series": "Discharge", "value": 90},
      {"date": "2007-10-06", "series": "Discharge", "value": 97},
      {"date": "2007-10-06T12:00Z", "series": "Discharge", "value": 104},
      {"date": "2007-10-07T06:00Z", "series": "Discharge", "value": 107},
      {"date": "2007-10-08T06:00Z", "series": "Discharge", "value": 104},
      {"date": "2007-10-08T18:00Z", "series": "Discharge", "value": 24.5},
      {"date": "2007-10-09T12:00Z", "series": "Discharge", "value": 25},
      {"date": "2007-10-10T12:00Z", "series": "Discharge", "value": 22.5},
      {"date": "2007-10-11T18:00Z", "series": "Discharge", "value": 18},
      {"date": "2007-10-13", "series": "Discharge", "value": 15.5},
      {"date": "2007-10-14", "series": "Discharge", "value": 13},
      {"date": "2007-10-14T18:00Z", "series": "Discharge", "value": 12.5},
      {"date": "2007-10-15T12:00Z", "series": "Discharge", "value": 13},
      {"date": "2007-10-16", "series": "Discharge", "value": 11.3},
      {"date": "2007-10-17", "series": "Discharge", "value": 10.3},
      {"date": "2007-10-17T18:00Z", "series": "Discharge", "value": 8.2},
      {"date": "2007-10-19", "series": "Discharge", "value": 5.6},
      {"date": "2007-10-19T12:00Z", "series": "Discharge", "value": 8.8},
      {"date": "2007-10-20T06:00Z", "series": "Discharge", "value": 78},
      {"date": "2007-10-20T12:00Z", "series": "Discharge", "value": 22.5},
      {"date": "2007-10-21", "series": "Discharge", "value": 9.5},
      {"date": "2007-10-21T06:00Z", "series": "Discharge", "value": 4},
      {"date": "2007-10-22T06:00Z", "series": "Discharge", "value": 2.4},
      {"date": "2007-10-22T12:00Z", "series": "Discharge", "value": 6.2},
      {"date": "2007-10-23", "series": "Discharge", "value": 27},
      {"date": "2007-10-23T06:00Z", "series": "Discharge", "value": 24},
      {"date": "2007-10-23T12:00Z", "series": "Discharge", "value": 19.5},
      {"date": "2007-10-24", "series": "Discharge", "value": 5.3},
      {"date": "2007-10-24T06:00Z", "series": "Discharge", "value": 4},
      {"date": "2007-10-24T18:00Z", "series": "Discharge", "value": 9.5},
      {"date": "2007-10-25T06:00Z", "series": "Discharge", "value": 15.5},
      {"date": "2007-10-25T12:00Z", "series": "Discharge", "value": 7.2},
      {"date": "2007-10-26", "series": "Discharge", "value": 35},
      {"date": "2007-10-26T12:00Z", "series": "Discharge", "value": 63},
      {"date": "2007-10-27T06:00Z", "series": "Discharge", "value": 110},
      {"date": "2007-10-27T12:00Z", "series": "Discharge", "value": 40},
      {"date": "2007-10-27T18:00Z", "series": "Discharge", "value": 130},
      {"date": "2007-10-28T12:00Z", "series": "Discharge", "value": 160},
      {"date": "2007-10-29T06:00Z", "series": "Discharge", "value": 170},
      {"date": "2007-10-30", "series": "Discharge", "value": 175},
      {"date": "2007-10-30T06:00Z", "series": "Discharge", "value": 45},
      {"date": "2007-10-31T12:00Z", "series": "Discharge", "value": 45},
      {"date": "2007-11-01T12:00Z", "series": "Discharge", "value": 47},
      {"date": "2007-11-02T12:00Z", "series": "Discharge", "value": 50},
      {"date": "2007-11-03T06:00Z", "series": "Discharge", "value": 50},
      {"date": "2007-11-03T18:00Z", "series": "Discharge", "value": 35},
      {"date": "2007-11-04T18:00Z", "series": "Discharge", "value": 35},
      {"date": "2007-11-05T06:00Z", "series": "Discharge", "value": 40},
      {"date": "2007-11-06", "series": "Discharge", "value": 50},
      {"date": "2007-11-07T12:00Z", "series": "Discharge", "value": 50},
      {"date": "2007-11-09", "series": "Discharge", "value": 50},
      {"date": "2007-11-09T12:00Z", "series": "Discharge", "value": 14.5},
      {"date": "2007-11-09T18:00Z", "series": "Discharge", "value": 40},
      {"date": "2007-11-10T06:00Z", "series": "Discharge", "value": 45},
      {"date": "2007-11-11", "series": "Discharge", "value": 50},
      {"date": "2007-11-12", "series": "Discharge", "value": 52},
      {"date": "2007-11-12T18:00Z", "series": "Discharge", "value": 60},
      {"date": "2007-11-14", "series": "Discharge", "value": 60},
      {"date": "2007-11-14T12:00Z", "series": "Discharge", "value": 78},
      {"date": "2007-11-15", "series": "Discharge", "value": 90},
      {"date": "2007-11-15T12:00Z", "series": "Discharge", "value": 11.3},
      {"date": "2007-11-16T12:00Z", "series": "Discharge", "value": 10.2},
      {"date": "2007-11-17", "series": "Discharge", "value": 9.3},
      {"date": "2007-11-18T06:00Z", "series": "Discharge", "value": 9.5},
      {"date": "2007-11-18T18:00Z", "series": "Discharge", "value": 6.3},
      {"date": "2007-11-19T06:00Z", "series": "Discharge", "value": 6.5},
      {"date": "2007-11-19T18:00Z", "series": "Discharge", "value": 11.3},
      {"date": "2007-11-20T06:00Z", "series": "Discharge", "value": 9.5},
      {"date": "2007-11-20T12:00Z", "series": "Discharge", "value": 7.1},
      {"date": "2007-11-20T18:00Z", "series": "Discharge", "value": 4},
      {"date": "2007-11-21T06:00Z", "series": "Discharge", "value": 6.1},
      {"date": "2007-11-21T18:00Z", "series": "Discharge", "value": 11.8},
      {"date": "2007-11-22T12:00Z", "series": "Discharge", "value": 13},
      {"date": "2007-11-23", "series": "Discharge", "value": 8.2},
      {"date": "2007-11-23T12:00Z", "series": "Discharge", "value": 7.1},
      {"date": "2007-11-24", "series": "Discharge", "value": 12},
      {"date": "2007-11-24T06:00Z", "series": "Discharge", "value": 4.6},
      {"date": "2007-11-24T18:00Z", "series": "Discharge", "value": 1.9},
      {"date": "2007-11-25", "series": "Discharge", "value": 4},
      {"date": "2007-11-25T12:00Z", "series": "Discharge", "value": 9.5},
      {"date": "2007-11-25T18:00Z", "series": "Discharge", "value": 5.3},
      {"date": "2007-11-26T06:00Z", "series": "Discharge", "value": 2.1},
      {"date": "2007-11-26T18:00Z", "series": "Discharge", "value": 9.5},
      {"date": "2007-11-27", "series": "Discharge", "value": 4},
      {"date": "2007-11-27T06:00Z", "series": "Discharge", "value": 9.5},
      {"date": "2007-11-27T18:00Z", "series": "Discharge", "value": 2.8},
      {"date": "2007-11-28T06:00Z", "series": "Discharge", "value": 4},
      {"date": "2007-11-28T18:00Z", "series": "Discharge", "value": 14.5},
      {"date": "2007-11-29", "series": "Discharge", "value": 0.7},
      {"date": "2007-11-29T06:00Z", "series": "Discharge", "value": 8.2},
      {"date": "2007-11-29T12:00Z", "series": "Discharge", "value": 0.7},
      {"date": "2007-11-29T18:00Z", "series": "Discharge", "value": 4.9},
      {"date": "2007-11-30T12:00Z", "series": "Discharge", "value": 6.6},
      {"date": "2007-12-01", "series": "Discharge", "value": 9.5},
      {"date": "2007-12-02T06:00Z", "series": "Discharge", "value": 14.5},
      {"date": "2007-12-03", "series": "Discharge", "value": 15.5},
      {"date": "2007-12-03T12:00Z", "series": "Discharge", "value": 10.2},
      {"date": "2007-12-03T18:00Z", "series": "Discharge", "value": 3},
      {"date": "2007-12-04T12:00Z", "series": "Discharge", "value": 2.4},
      {"date": "2007-12-05", "series": "Discharge", "value": 4},
      {"date": "2007-12-05T18:00Z", "series": "Discharge", "value": 6.2},
      {"date": "2007-12-06", "series": "Discharge", "value": 5.3},
      {"date": "2007-12-06T12:00Z", "series": "Discharge", "value": 3.4},
      {"date": "2007-12-07T06:00Z", "series": "Discharge", "value": 5.3},
      {"date": "2007-12-07T18:00Z", "series": "Discharge", "value": 6},
      {"date": "2007-12-08", "series": "Discharge", "value": 2.4},
      {"date": "2007-12-08T12:00Z", "series": "Discharge", "value": 5.3},
      {"date": "2007-12-08T18:00Z", "series": "Discharge", "value": 7.1},
      {"date": "2007-12-09T12:00Z", "series": "Discharge", "value": 7.1},
      {"date": "2007-12-10", "series": "Discharge", "value": 10.2},
      {"date": "2007-12-10T18:00Z", "series": "Discharge", "value": 14.5},
      {"date": "2007-12-11T12:00Z", "series": "Discharge", "value": 15},
      {"date": "2007-12-12T06:00Z", "series": "Discharge", "value": 13},
      {"date": "2007-12-12T18:00Z", "series": "Discharge", "value": 13},
      {"date": "2007-12-13", "series": "Discharge", "value": 4.6},
      {"date": "2007-12-13T06:00Z", "series": "Discharge", "value": 15},
      {"date": "2007-12-14T12:00Z", "series": "Discharge", "value": 14.5},
      {"date": "2007-12-15T06:00Z", "series": "Discharge", "value": 15},
      {"date": "2007-12-15T12:00Z", "series": "Discharge", "value": 18},
      {"date": "2007-12-16T18:00Z", "series": "Discharge", "value": 18},
      {"date": "2007-12-17T12:00Z", "series": "Discharge", "value": 19.5},
      {"date": "2007-12-18T06:00Z", "series": "Discharge", "value": 20},
      {"date": "2007-12-19T12:00Z", "series": "Discharge", "value": 19.5},
      {"date": "2007-12-20T06:00Z", "series": "Discharge", "value": 20},
      {"date": "2007-12-21", "series": "Discharge", "value": 19.5},
      {"date": "2007-12-21T18:00Z", "series": "Discharge", "value": 18},
      {"date": "2007-12-22T12:00Z", "series": "Discharge", "value": 18},
      {"date": "2007-12-23", "series": "Discharge", "value": 9.5},
      {"date": "2007-12-24", "series": "Discharge", "value": 9.5},
      {"date": "2007-12-24T12:00Z", "series": "Discharge", "value": 14.5},
      {"date": "2007-12-25T06:00Z", "series": "Discharge", "value": 15},
      {"date": "2007-12-26", "series": "Discharge", "value": 14.5},
      {"date": "2007-12-26T18:00Z", "series": "Discharge", "value": 15.5},
      {"date": "2007-12-27T06:00Z", "series": "Discharge", "value": 14.5},
      {"date": "2007-12-27T18:00Z", "series": "Discharge", "value": 13},
      {"date": "2007-12-28T06:00Z", "series": "Discharge", "value": 19.5},
      {"date": "2007-12-29", "series": "Discharge", "value": 22.5},
      {"date": "2007-12-29T12:00Z", "series": "Discharge", "value": 5.3},
      {"date": "2007-12-30", "series": "Discharge", "value": 4.3},
      {"date": "2007-12-31", "series": "Discharge", "value": 4},
      {"date": "2007-12-31T18:00Z", "series": "Discharge", "value": 4.9},
      {"date": "2008-01-01T12:00Z", "series": "Discharge", "value": 5.6},
      {"date": "2008-01-02T06:00Z", "series": "Discharge", "value": 6.9},
      {"date": "2008-01-03", "series": "Discharge", "value": 7.9},
      {"date": "2008-01-03T18:00Z", "series": "Discharge", "value": 8.2},
      {"date": "2008-01-05", "series": "Discharge", "value": 8.6},
      {"date": "2008-01-06T18:00Z", "series": "Discharge", "value": 8.2},
      {"date": "2008-01-08", "series": "Discharge", "value": 7.6},
      {"date": "2008-01-09T06:00Z", "series": "Discharge", "value": 8.2},
      {"date": "2008-01-10T06:00Z", "series": "Discharge", "value": 8.2},
      {"date": "2008-01-11", "series": "Discharge", "value": 8.5},
      {"date": "2008-01-12T06:00Z", "series": "Discharge", "value": 8.2},
      {"date": "2008-01-13", "series": "Discharge", "value": 8.8},
      {"date": "2008-01-13T18:00Z", "series": "Discharge", "value": 9.6},
      {"date": "2008-01-14T18:00Z", "series": "Discharge", "value": 9},
      {"date": "2008-01-16", "series": "Discharge", "value": 9},
      {"date": "2008-01-16T18:00Z", "series": "Discharge", "value": 8.2},
      {"date": "2008-01-17T06:00Z", "series": "Discharge", "value": 7.1},
      {"date": "2008-01-17T12:00Z", "series": "Discharge", "value": 9.5},
      {"date": "2008-01-18T06:00Z", "series": "Discharge", "value": 9.5},
      {"date": "2008-01-19", "series": "Discharge", "value": 10},
      {"date": "2008-01-20T12:00Z", "series": "Discharge", "value": 8.5},
      {"date": "2008-01-21T06:00Z", "series": "Discharge", "value": 8.5},
      {"date": "2008-01-22T12:00Z", "series": "Discharge", "value": 7.1},
      {"date": "2008-01-22T18:00Z", "series": "Discharge", "value": 8},
      {"date": "2008-01-23T06:00Z", "series": "Discharge", "value": 6.9},
      {"date": "2008-01-23T18:00Z", "series": "Discharge", "value": 6.9},
      {"date": "2008-01-24T06:00Z", "series": "Discharge", "value": 16.5},
      {"date": "2008-01-25", "series": "Discharge", "value": 13},
      {"date": "2008-01-25T12:00Z", "series": "Discharge", "value": 11.3},
      {"date": "2008-01-26T06:00Z", "series": "Discharge", "value": 11.3},
      {"date": "2008-01-26T18:00Z", "series": "Discharge", "value": 10.2},
      {"date": "2008-01-27", "series": "Discharge", "value": 9.5},
      {"date": "2008-01-27T18:00Z", "series": "Discharge", "value": 11},
      {"date": "2008-01-28T06:00Z", "series": "Discharge", "value": 16.5},
      {"date": "2008-01-29", "series": "Discharge", "value": 9.5},
      {"date": "2008-01-30", "series": "Discharge", "value": 9.5},
      {"date": "2008-01-30T12:00Z", "series": "Discharge", "value": 7.6},
      {"date": "2008-01-31", "series": "Discharge", "value": 9.5},
      {"date": "2008-01-31T18:00Z", "series": "Discharge", "value": 9.5},
      {"date": "2008-02-01", "series": "Discharge", "value": 60},
      {"date": "2008-02-01T18:00Z", "series": "Discharge", "value": 25},
      {"date": "2008-02-02T12:00Z", "series": "Discharge", "value": 15},
      {"date": "2008-02-02T18:00Z", "series": "Discharge", "value": 15},
      {"date": "2008-02-03T06:00Z", "series": "Discharge", "value": 9.5},
      {"date": "2008-02-04", "series": "Discharge", "value": 9.5},
      {"date": "2008-02-04T18:00Z", "series": "Discharge", "value": 8.5},
      {"date": "2008-02-05T12:00Z", "series": "Discharge", "value": 9.5},
      {"date": "2008-02-07", "series": "Discharge", "value": 9.3},
      {"date": "2008-02-08", "series": "Discharge", "value": 9.5},
      {"date": "2008-02-08T18:00Z", "series": "Discharge", "value": 8.5},
      {"date": "2008-02-09T06:00Z", "series": "Discharge", "value": 9.3},
      {"date": "2008-02-10T12:00Z", "series": "Discharge", "value": 11.3},
      {"date": "2008-02-11T06:00Z", "series": "Discharge", "value": 8.5},
      {"date": "2008-02-11T18:00Z", "series": "Discharge", "value": 8.2},
      {"date": "2008-02-12T12:00Z", "series": "Discharge", "value": 9.5},
      {"date": "2008-02-14", "series": "Discharge", "value": 9.5},
      {"date": "2008-02-15", "series": "Discharge", "value": 11.3},
      {"date": "2008-02-15T12:00Z", "series": "Discharge", "value": 10.2},
      {"date": "2008-02-16T06:00Z", "series": "Discharge", "value": 9.3},
      {"date": "2008-02-17T12:00Z", "series": "Discharge", "value": 9.5},
      {"date": "2008-02-18T12:00Z", "series": "Discharge", "value": 9.5},
      {"date": "2008-02-19T06:00Z", "series": "Discharge", "value": 9},
      {"date": "2008-02-21", "series": "Discharge", "value": 8.5},
      {"date": "2008-02-22T06:00Z", "series": "Discharge", "value": 8.2},
      {"date": "2008-02-23", "series": "Discharge", "value": 8},
      {"date": "2008-02-23T18:00Z", "series": "Discharge", "value": 9.5},
      {"date": "2008-02-24T06:00Z", "series": "Discharge", "value": 17.5},
      {"date": "2008-02-25", "series": "Discharge", "value": 17.5},
      {"date": "2008-02-25T12:00Z", "series": "Discharge", "value": 24},
      {"date": "2008-02-26", "series": "Discharge", "value": 23.5},
      {"date": "2008-02-26T12:00Z", "series": "Discharge", "value": 22},
      {"date": "2008-02-27T12:00Z", "series": "Discharge", "value": 21},
      {"date": "2008-02-28T12:00Z", "series": "Discharge", "value": 20},
      {"date": "2008-02-28T18:00Z", "series": "Discharge", "value": 11.8},
      {"date": "2008-02-29T18:00Z", "series": "Discharge", "value": 11.8},
      {"date": "2008-03-01T06:00Z", "series": "Discharge", "value": 14.5},
      {"date": "2008-03-02T06:00Z", "series": "Discharge", "value": 11.3},
      {"date": "2008-03-03", "series": "Discharge", "value": 10.3},
      {"date": "2008-03-04", "series": "Discharge", "value": 9.5},
      {"date": "2008-03-04T18:00Z", "series": "Discharge", "value": 11},
      {"date": "2008-03-06", "series": "Discharge", "value": 11},
      {"date": "2008-03-07", "series": "Discharge", "value": 11.3},
      {"date": "2008-03-07T18:00Z", "series": "Discharge", "value": 11},
      {"date": "2008-03-08T06:00Z", "series": "Discharge", "value": 9.5},
      {"date": "2008-03-08T18:00Z", "series": "Discharge", "value": 11.8},
      {"date": "2008-03-09T18:00Z", "series": "Discharge", "value": 9.3},
      {"date": "2008-03-10T18:00Z", "series": "Discharge", "value": 9},
      {"date": "2008-03-12", "series": "Discharge", "value": 8.6},
      {"date": "2008-03-12T18:00Z", "series": "Discharge", "value": 9.3},
      {"date": "2008-03-13T06:00Z", "series": "Discharge", "value": 14.3},
      {"date": "2008-03-14T12:00Z", "series": "Discharge", "value": 13.8},
      {"date": "2008-03-15T12:00Z", "series": "Discharge", "value": 13.5},
      {"date": "2008-03-16T06:00Z", "series": "Discharge", "value": 13.5},
      {"date": "2008-03-17", "series": "Discharge", "value": 14.3},
      {"date": "2008-03-18", "series": "Discharge", "value": 13},
      {"date": "2008-03-18T18:00Z", "series": "Discharge", "value": 12.5},
      {"date": "2008-03-19T06:00Z", "series": "Discharge", "value": 9.5},
      {"date": "2008-03-20", "series": "Discharge", "value": 12.5},
      {"date": "2008-03-21T06:00Z", "series": "Discharge", "value": 12},
      {"date": "2008-03-22", "series": "Discharge", "value": 12.3},
      {"date": "2008-03-22T18:00Z", "series": "Discharge", "value": 11.8},
      {"date": "2008-03-23T06:00Z", "series": "Discharge", "value": 10.3},
      {"date": "2008-03-23T18:00Z", "series": "Discharge", "value": 8},
      {"date": "2008-03-24T06:00Z", "series": "Discharge", "value": 11.8},
      {"date": "2008-03-24T12:00Z", "series": "Discharge", "value": 5.6},
      {"date": "2008-03-25", "series": "Discharge", "value": 4.9},
      {"date": "2008-03-26T06:00Z", "series": "Discharge", "value": 4.9},
      {"date": "2008-03-26T18:00Z", "series": "Discharge", "value": 7.3},
      {"date": "2008-03-27T06:00Z", "series": "Discharge", "value": 3},
      {"date": "2008-03-28", "series": "Discharge", "value": 1.66},
      {"date": "2008-03-28T18:00Z", "series": "Discharge", "value": 1.66},
      {"date": "2008-03-29T06:00Z", "series": "Discharge", "value": 0.7},
      {"date": "2008-03-29T12:00Z", "series": "Discharge", "value": 1.6},
      {"date": "2008-03-30T06:00Z", "series": "Discharge", "value": 0.7},
      {"date": "2008-03-30T12:00Z", "series": "Discharge", "value": 1.6},
      {"date": "2008-03-31", "series": "Discharge", "value": 3.4},
      {"date": "2008-03-31T12:00Z", "series": "Discharge", "value": 0.7},
      {"date": "2008-03-31T18:00Z", "series": "Discharge", "value": 4},
      {"date": "2008-04-01T12:00Z", "series": "Discharge", "value": 2.07},
      {"date": "2008-04-02", "series": "Discharge", "value": 2.4},
      {"date": "2008-04-02T12:00Z", "series": "Discharge", "value": 2},
      {"date": "2008-04-02T18:00Z", "series": "Discharge", "value": 3},
      {"date": "2008-04-03T12:00Z", "series": "Discharge", "value": 2},
      {"date": "2008-04-03T18:00Z", "series": "Discharge", "value": 4.1},
      {"date": "2008-04-04T06:00Z", "series": "Discharge", "value": 2.6},
      {"date": "2008-04-05", "series": "Discharge", "value": 4.1},
      {"date": "2008-04-05T12:00Z", "series": "Discharge", "value": 4},
      {"date": "2008-04-05T18:00Z", "series": "Discharge", "value": 3},
      {"date": "2008-04-06T06:00Z", "series": "Discharge", "value": 4.1},
      {"date": "2008-04-07", "series": "Discharge", "value": 3.4},
      {"date": "2008-04-07T12:00Z", "series": "Discharge", "value": 9.5},
      {"date": "2008-04-08T06:00Z", "series": "Discharge", "value": 9.5},
      {"date": "2008-04-09", "series": "Discharge", "value": 9.5},
      {"date": "2008-04-10T06:00Z", "series": "Discharge", "value": 10.3},
      {"date": "2008-04-10T18:00Z", "series": "Discharge", "value": 8.2},
      {"date": "2008-04-11T12:00Z", "series": "Discharge", "value": 9.5},
      {"date": "2008-04-12T06:00Z", "series": "Discharge", "value": 15},
      {"date": "2008-04-13", "series": "Discharge", "value": 14.5},
      {"date": "2008-04-13T18:00Z", "series": "Discharge", "value": 15.5},
      {"date": "2008-04-14T12:00Z", "series": "Discharge", "value": 15},
      {"date": "2008-04-15", "series": "Discharge", "value": 16.5},
      {"date": "2008-04-15T12:00Z", "series": "Discharge", "value": 12.5},
      {"date": "2008-04-15T18:00Z", "series": "Discharge", "value": 10.3},
      {"date": "2008-04-16T12:00Z", "series": "Discharge", "value": 17},
      {"date": "2008-04-17T06:00Z", "series": "Discharge", "value": 11.3},
      {"date": "2008-04-18", "series": "Discharge", "value": 12},
      {"date": "2008-04-19T06:00Z", "series": "Discharge", "value": 11.3},
      {"date": "2008-04-20T06:00Z", "series": "Discharge", "value": 11.8},
      {"date": "2008-04-21", "series": "Discharge", "value": 17},
      {"date": "2008-04-22", "series": "Discharge", "value": 14.5},
      {"date": "2008-04-22T12:00Z", "series": "Discharge", "value": 11.8},
      {"date": "2008-04-23T12:00Z", "series": "Discharge", "value": 10.3},
      {"date": "2008-04-24T06:00Z", "series": "Discharge", "value": 11.8},
      {"date": "2008-04-24T18:00Z", "series": "Discharge", "value": 19.5},
      {"date": "2008-04-25T06:00Z", "series": "Discharge", "value": 11},
      {"date": "2008-04-26", "series": "Discharge", "value": 9.9},
      {"date": "2008-04-27T06:00Z", "series": "Discharge", "value": 9.5},
      {"date": "2008-04-28T12:00Z", "series": "Discharge", "value": 9.3},
      {"date": "2008-04-29T12:00Z", "series": "Discharge", "value": 9},
      {"date": "2008-04-30T18:00Z", "series": "Discharge", "value": 8.2}
    ]
  },
  "layer": [
    {
      "data": {"name": "status"},
      "mark": {"type": "rect"},
      "encoding": {
        "x": {
          "field": "start", "type": "temporal",
          "scale": {"type": "utc", "domain": [{"year": 2007, "month": 8, "date": 21, "utc": true}, {"year": 2008, "month": 5, "date": 1, "utc": true}]},
          "axis": {
            "title": null,
            "values": [
              {"year": 2007, "month": 8, "date": 21, "utc": true},
              {"year": 2007, "month": 9, "date": 10, "utc": true},
              {"year": 2007, "month": 9, "date": 30, "utc": true},
              {"year": 2007, "month": 10, "date": 20, "utc": true},
              {"year": 2007, "month": 11, "date": 9, "utc": true},
              {"year": 2007, "month": 11, "date": 29, "utc": true},
              {"year": 2007, "month": 12, "date": 19, "utc": true},
              {"year": 2008, "month": 1, "date": 8, "utc": true},
              {"year": 2008, "month": 1, "date": 28, "utc": true},
              {"year": 2008, "month": 2, "date": 17, "utc": true},
              {"year": 2008, "month": 3, "date": 8, "utc": true},
              {"year": 2008, "month": 3, "date": 28, "utc": true},
              {"year": 2008, "month": 4, "date": 17, "utc": true}
            ],
            "format": "%-d-%b",
            "grid": true, "gridColor": "#9a9a9a", "gridWidth": 1.2,
            "ticks": false, "tickSize": 0, "domain": false,
            "labelFont": "DejaVu Sans Mono", "labelFontSize": 18, "labelPadding": 22,
            "labelOverlap": false, "labelFlush": false
          }
        },
        "x2": {"field": "end"},
        "y": {
          "datum": 4570, "type": "quantitative",
          "scale": {"type": "log", "domain": [1, 10000], "nice": false},
          "axis": {
            "title": "Turbidity",
            "values": [1, 2, 3, 4, 5, 6, 7, 8, 9, 10, 20, 30, 40, 50, 60, 70, 80, 90, 100, 200, 300, 400, 500, 600, 700, 800, 900, 1000, 2000, 3000, 4000, 5000, 6000, 7000, 8000, 9000, 10000],
            "labelExpr": "indexof([1, 10, 100, 1000, 10000], datum.value) >= 0 ? '' + datum.value : ''",
            "grid": true,
            "gridColor": {"condition": {"test": "indexof([1, 10, 100, 1000, 10000], datum.value) >= 0", "value": "#000000"}, "value": "#b3b3b3"},
            "gridWidth": {"condition": {"test": "indexof([1, 10, 100, 1000, 10000], datum.value) >= 0", "value": 1.5}, "value": 1.2},
            "ticks": false, "tickSize": 0, "domain": false,
            "labelFont": "DejaVu Sans Mono", "labelFontSize": 17, "labelPadding": 16,
            "labelOverlap": false, "labelFlush": false,
            "titleFont": "DejaVu Sans", "titleFontSize": 14, "titleFontWeight": "normal", "titlePadding": 17
          }
        },
        "y2": {"datum": 3620},
        "fill": {"field": "mode", "type": "nominal", "scale": {"domain": ["Halt", "Operate"], "range": ["#378245", "#F59331"]}, "legend": null}
      }
    },
    {
      "data": {"name": "phases"},
      "mark": {"type": "rect"},
      "encoding": {
        "x": {"field": "start", "type": "temporal"},
        "x2": {"field": "end"},
        "y": {"datum": 2250, "type": "quantitative"},
        "y2": {"datum": 1134},
        "fill": {"field": "mode", "type": "nominal", "legend": null}
      }
    },
    {
      "data": {"name": "phases"},
      "transform": [{"calculate": "(time(datum.start) + time(datum.end)) / 2", "as": "mid"}],
      "mark": {"type": "text", "font": "DejaVu Sans", "fontSize": 19, "color": "white", "baseline": "middle", "align": "center"},
      "encoding": {
        "x": {"field": "mid", "type": "temporal"},
        "y": {"datum": 1607, "type": "quantitative"},
        "text": {"field": "mode"}
      }
    },
    {
      "data": {"name": "turbidity"},
      "transform": [{"filter": "datum.series === 'Reservoir (-2m)'"}],
      "mark": {"type": "line", "strokeWidth": 3, "clip": true, "strokeJoin": "round"},
      "encoding": {
        "x": {"field": "date", "type": "temporal"},
        "y": {"field": "value", "type": "quantitative"},
        "color": {
          "field": "series", "type": "nominal",
          "scale": {"domain": ["Reservoir (-2m)", "In-frow", "Discharge"], "range": ["#37883F", "#2355A5", "#EE2B2B"]},
          "legend": {
            "title": null, "orient": "none", "legendX": 634, "legendY": 116,
            "direction": "vertical",
            "symbolType": "M-4,0H4", "symbolSize": 156, "symbolStrokeWidth": 3,
            "labelFont": "DejaVu Sans Mono", "labelFontSize": 12.5, "labelColor": "black",
            "labelOffset": 22, "symbolOffset": 24, "padding": 5, "rowPadding": 3.5,
            "strokeColor": "black", "fillColor": "white"
          }
        }
      }
    },
    {
      "data": {"name": "turbidity"},
      "transform": [{"filter": "datum.series === 'In-frow'"}],
      "mark": {"type": "line", "strokeWidth": 3, "clip": true, "strokeJoin": "round"},
      "encoding": {
        "x": {"field": "date", "type": "temporal"},
        "y": {"field": "value", "type": "quantitative"},
        "color": {"field": "series", "type": "nominal"}
      }
    },
    {
      "data": {"name": "turbidity"},
      "transform": [{"filter": "datum.series === 'Discharge'"}],
      "mark": {"type": "line", "strokeWidth": 3, "clip": true, "strokeJoin": "round"},
      "encoding": {
        "x": {"field": "date", "type": "temporal"},
        "y": {"field": "value", "type": "quantitative"},
        "color": {"field": "series", "type": "nominal"}
      }
    },
    {
      "data": {"name": "notes"},
      "mark": {"type": "rule", "color": "black", "strokeWidth": 1.4},
      "encoding": {
        "x": {"field": "tip", "type": "temporal"},
        "x2": {"field": "tail"},
        "y": {"field": "tipValue", "type": "quantitative"},
        "y2": {"datum": 0.132}
      }
    },
    {
      "data": {"name": "notes"},
      "mark": {"type": "point", "shape": "M0,0L0.5,1.5L-0.5,1.5Z", "filled": true, "color": "black", "size": 1000, "opacity": 1},
      "encoding": {
        "x": {"field": "tip", "type": "temporal"},
        "y": {"field": "tipValue", "type": "quantitative"},
        "angle": {"field": "note", "type": "nominal", "scale": {"type": "ordinal", "domain": ["Typhoon Rainfall", "Another Rainfall", "Beginning of Overturn"], "range": [333, 328, 292]}, "legend": null}
      }
    },
    {
      "data": {"name": "notes"},
      "mark": {"type": "rect", "fill": "white", "stroke": "black", "strokeWidth": 1.5},
      "encoding": {
        "x": {"field": "boxStart", "type": "temporal"},
        "x2": {"field": "boxEnd"},
        "y": {"datum": 0.132, "type": "quantitative"},
        "y2": {"datum": 0.0307}
      }
    },
    {
      "data": {"name": "notes"},
      "transform": [{"calculate": "(time(datum.boxStart) + time(datum.boxEnd)) / 2", "as": "boxMid"}],
      "mark": {"type": "text", "font": "Liberation Serif", "fontSize": 29, "color": "black", "baseline": "middle", "align": "center"},
      "encoding": {
        "x": {"field": "boxMid", "type": "temporal"},
        "y": {"datum": 0.059, "type": "quantitative"},
        "text": {"field": "note"}
      }
    }
  ]
}
